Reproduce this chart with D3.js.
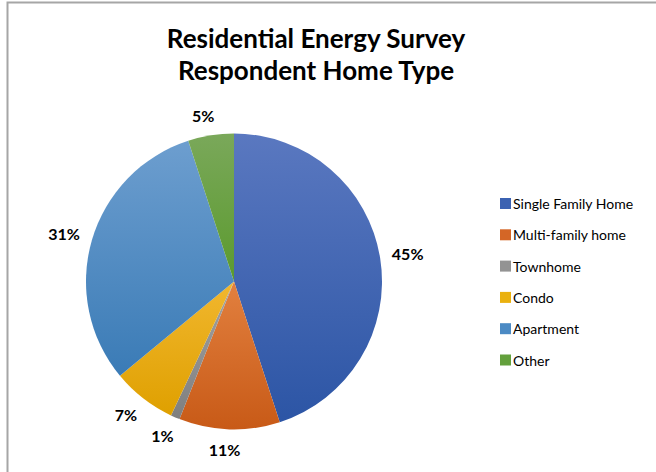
<!DOCTYPE html>
<html>
<head>
<meta charset="utf-8">
<script src="https://cdn.jsdelivr.net/npm/d3@7"></script>
<style>
  html, body { margin: 0; padding: 0; background: #fff; }
  svg { display: block; }
</style>
</head>
<body>
<svg id="chart" width="656" height="472"></svg>
<script>
// Survey results: share of respondents by home type (percent)
const categories = ["Single Family Home", "Multi-family home", "Townhome", "Condo", "Apartment", "Other"];
const values = [45, 11, 1, 7, 31, 5];
const colorsTop = ["#5a78c0", "#e2803f", "#a3a3a3", "#f1b72f", "#6d9ecf", "#7aa85a"];
const colorsBottom = ["#2c55a5", "#c85a17", "#7f7f7f", "#dfa000", "#3a7bb6", "#5b9a2e"];
const legendColors = ["#3b62b2", "#d46626", "#939393", "#eab10f", "#4b8ac4", "#63a03c"];
const titleLines = ["Residential Energy Survey", "Respondent Home Type"];

const svg = d3.select("#chart");
const W = 656, H = 472;
const font = "Lato, 'Open Sans', sans-serif";

// chart area frame (top and left edges visible)
svg.append("rect")
  .attr("x", 7.5).attr("y", 2.5)
  .attr("width", W + 20).attr("height", H + 20)
  .attr("fill", "#fff")
  .attr("stroke", "#a6a6a6")
  .attr("stroke-width", 2);

// title
svg.append("g").selectAll("text")
  .data(titleLines)
  .join("text")
  .attr("x", 316)
  .attr("y", (d, i) => 48 + i * 32)
  .attr("text-anchor", "middle")
  .attr("font-family", font)
  .attr("font-weight", 700)
  .attr("font-size", 26)
  .attr("fill", "#000")
  .text(d => d);

const cx = 234, cy = 281.5, R = 148;
const data = categories.map((c, i) => ({ name: c, value: values[i], i }));

const pie = d3.pie().value(d => d.value).sort(null);
const arcs = pie(data);
const arc = d3.arc().innerRadius(0).outerRadius(R);

// vertical gradient per slice
const defs = svg.append("defs");
data.forEach((d, i) => {
  const g = defs.append("linearGradient")
    .attr("id", "grad" + i)
    .attr("x1", 0).attr("y1", 0).attr("x2", 0).attr("y2", 1);
  g.append("stop").attr("offset", "0%").attr("stop-color", colorsTop[i]);
  g.append("stop").attr("offset", "100%").attr("stop-color", colorsBottom[i]);
});

const pg = svg.append("g").attr("transform", `translate(${cx},${cy})`);
pg.selectAll("path")
  .data(arcs)
  .join("path")
  .attr("d", arc)
  .attr("fill", d => `url(#grad${d.data.i})`);

// percentage labels just outside each slice
const fmt = d3.format(".0%");
const total = d3.sum(values);
const labelR = 160;
const lg = pg.append("g");
arcs.forEach(a => {
  const mid = (a.startAngle + a.endAngle) / 2;
  const sx = Math.sin(mid), sy = -Math.cos(mid);
  const t = lg.append("text")
    .attr("font-family", font)
    .attr("font-weight", 700)
    .attr("font-size", 16)
    .attr("fill", "#000")
    .attr("text-anchor", "middle")
    .attr("dominant-baseline", "central")
    .text(fmt(a.data.value / total));
  const bb = t.node().getBBox();
  const x = labelR * sx + sx * bb.width / 2 + (sx < 0 ? -4 * Math.abs(sy) : 0);
  const y = labelR * sy + sy * 6 + (sy > 0.5 ? 2 : -2);
  t.attr("x", x).attr("y", y);
});

// legend
const leg = svg.append("g").attr("transform", "translate(500,203.5)");
const rows = leg.selectAll("g")
  .data(data)
  .join("g")
  .attr("transform", (d, i) => `translate(0,${i * 31.3})`);
rows.append("rect")
  .attr("x", 0).attr("y", -5.5)
  .attr("width", 11).attr("height", 11)
  .attr("fill", d => legendColors[d.i]);
rows.append("text")
  .attr("x", 13).attr("y", 0)
  .attr("dominant-baseline", "central")
  .attr("font-family", font)
  .attr("font-size", 14)
  .attr("fill", "#000")
  .text(d => d.name);
</script>
</body>
</html>
